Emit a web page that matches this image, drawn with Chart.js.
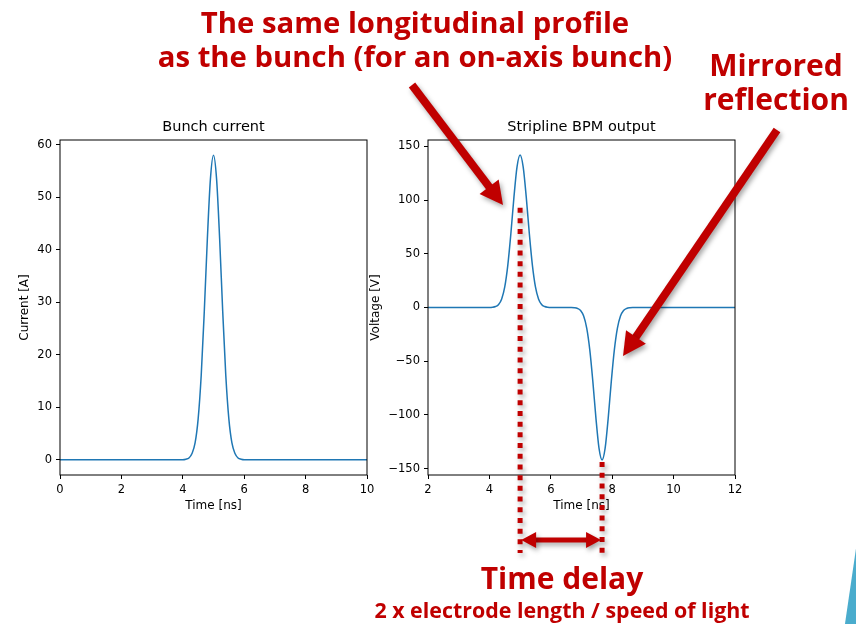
<!DOCTYPE html>
<html>
<head>
<meta charset="utf-8">
<script src="https://cdn.jsdelivr.net/npm/chart.js@4.4.1/dist/chart.umd.min.js"></script>
<style>
  body { margin: 0; width: 856px; height: 624px; overflow: hidden; background: #fff; position: relative; }
  canvas { position: absolute; }
  #bunch { left: 0; top: 110px; }
  #bpm { left: 360px; top: 110px; }
  #overlay { left: 0; top: 0; pointer-events: none; }
  .note { position: absolute; color: #c00000; font-family: "Open Sans", sans-serif; font-weight: 700; white-space: nowrap; text-align: center; transform: translateX(-50%); }
  #corner { position: absolute; left: 840px; top: 540px; width: 16px; height: 84px; background: #4aaccd; clip-path: polygon(100% 10%, 100% 100%, 31% 100%); }
</style>
</head>
<body>
<canvas id="bunch" width="380" height="420"></canvas>
<canvas id="bpm" width="390" height="420"></canvas>
<canvas id="overlay" width="856" height="624"></canvas>

<div class="note" style="left:415px; top:5px; font-size:29.3px; line-height:34px;">The same longitudinal profile<br>as the bunch (for an on-axis bunch)</div>
<div class="note" style="left:776px; top:48px; font-size:30px; line-height:34px;">Mirrored<br>reflection</div>
<div class="note" style="left:562px; top:561px; font-size:30px; line-height:34px;">Time delay</div>
<div class="note" style="left:562px; top:597px; font-size:21.4px; line-height:26px;">2 x electrode length / speed of light</div>
<div id="corner"></div>

<script>
// bunch current (left plot)
const bunchTime = [0, 4.0, 4.1, 4.2, 4.3, 4.4, 4.5, 4.6, 4.7, 4.8, 4.9, 5.0, 5.1, 5.2, 5.3, 5.4, 5.5, 5.6, 5.7, 5.8, 5.9, 6.0, 10];
const bunchCurrent = [0, 0, 0.1, 0.35, 1.2, 3.2, 7.8, 16.1, 28.3, 42.1, 53.5, 58, 53.5, 42.1, 28.3, 16.1, 7.8, 3.2, 1.2, 0.35, 0.1, 0, 0];

// stripline output (right plot)
const bpmTime = [2, 4.0, 4.1, 4.2, 4.3, 4.4, 4.5, 4.6, 4.7, 4.8, 4.9, 5.0, 5.1, 5.2, 5.3, 5.4, 5.5, 5.6, 5.7, 5.8, 5.9, 6.0,
  6.67, 6.77, 6.87, 6.97, 7.07, 7.17, 7.27, 7.37, 7.47, 7.57, 7.67, 7.77, 7.87, 7.97, 8.07, 8.17, 8.27, 8.37, 8.47, 8.57, 8.67, 12];
const bpmVoltage = [0, 0, 0.2, 0.9, 2.8, 8.0, 19.2, 39.5, 69, 103, 131, 142, 131, 103, 69, 39.5, 19.2, 8.0, 2.8, 0.9, 0.2, 0,
  0, -0.2, -0.9, -2.8, -8.0, -19.2, -39.5, -69, -103, -131, -142, -131, -103, -69, -39.5, -19.2, -8.0, -2.8, -0.9, -0.2, 0, 0];

const bunchXTicks = [0, 2, 4, 6, 8, 10];
const bunchYTicks = [0, 10, 20, 30, 40, 50, 60];
const bpmXTicks = [2, 4, 6, 8, 10, 12];
const bpmYTicks = [-150, -100, -50, 0, 50, 100, 150];

const RED = "#c00000";
const tickFont = { family: "DejaVu Sans", size: 11.5 };
const labelFont = { family: "DejaVu Sans", size: 12 };

// matplotlib style box + title centred over the plot area
const frame = {
  id: "frame",
  afterDraw(chart, args, opts) {
    const { ctx, chartArea: a } = chart;
    ctx.save();
    ctx.strokeStyle = "#000";
    ctx.lineWidth = 1;
    ctx.strokeRect(a.left, a.top, a.right - a.left, a.bottom - a.top);
    ctx.fillStyle = "#000";
    ctx.font = "14.5px 'DejaVu Sans'";
    ctx.textAlign = "center";
    ctx.textBaseline = "middle";
    ctx.fillText(opts.text, (a.left + a.right) / 2, 17);
    ctx.restore();
  },
};

function minus(v) {
  return v < 0 ? "\u2212" + Math.abs(v) : String(v);
}

function axis(ticks, min, max, title, titlePad, fit) {
  return {
    type: "linear",
    min,
    max,
    afterBuildTicks: (s) => { s.ticks = ticks.map((v) => ({ value: v })); },
    afterFit: fit,
    grid: { drawOnChartArea: false, drawTicks: true, tickLength: 4, color: "#000", lineWidth: 1 },
    border: { display: false },
    ticks: { font: tickFont, color: "#000", padding: 4, maxRotation: 0, autoSkip: false, callback: minus },
    title: { display: true, text: title, font: labelFont, color: "#000", padding: titlePad },
  };
}

function makeChart(id, xs, ys, opts) {
  return new Chart(document.getElementById(id), {
    type: "line",
    data: {
      datasets: [{
        data: xs.map((t, i) => ({ x: t, y: ys[i] })),
        borderColor: "#1f77b4",
        borderWidth: 1.5,
        pointRadius: 0,
        cubicInterpolationMode: "monotone",
      }],
    },
    options: {
      responsive: false,
      animation: false,
      events: [],
      layout: { padding: { left: 0, right: opts.right, top: 30, bottom: 0 } },
      plugins: {
        legend: { display: false },
        tooltip: { enabled: false },
        title: { display: false },
        frame: { text: opts.title },
      },
      scales: {
        x: axis(opts.xTicks, opts.xMin, opts.xMax, "Time [ns]", { top: 0, bottom: 17 }, (s) => { s.height = 55; }),
        y: axis(opts.yTicks, opts.yMin, opts.yMax, opts.yTitle, { top: opts.yTitlePad, bottom: 0 }, (s) => { s.width = opts.yWidth; }),
      },
    },
    plugins: [frame],
  });
}

const bunchChart = makeChart("bunch", bunchTime, bunchCurrent, {
  title: "Bunch current", yTitle: "Current [A]",
  xTicks: bunchXTicks, yTicks: bunchYTicks,
  xMin: 0, xMax: 10, yMin: -2.9, yMax: 60.9,
  yWidth: 60, yTitlePad: 18, right: 13,
});

const bpmChart = makeChart("bpm", bpmTime, bpmVoltage, {
  title: "Stripline BPM output", yTitle: "Voltage [V]",
  xTicks: bpmXTicks, yTicks: bpmYTicks,
  xMin: 2, xMax: 12, yMin: -156, yMax: 156,
  yWidth: 68, yTitlePad: 9, right: 15,
});

// annotations on top of the right plot
const ov = document.getElementById("overlay").getContext("2d");

function shadow(on) {
  ov.shadowColor = on ? "rgba(0,0,0,0.35)" : "transparent";
  ov.shadowBlur = on ? 5 : 0;
  ov.shadowOffsetX = on ? 2 : 0;
  ov.shadowOffsetY = on ? 3 : 0;
}

function head(tx, ty, ang, len, w) {
  ov.beginPath();
  ov.moveTo(tx, ty);
  ov.lineTo(tx - len * Math.cos(ang) + (w / 2) * Math.sin(ang), ty - len * Math.sin(ang) - (w / 2) * Math.cos(ang));
  ov.lineTo(tx - len * Math.cos(ang) - (w / 2) * Math.sin(ang), ty - len * Math.sin(ang) + (w / 2) * Math.cos(ang));
  ov.closePath();
  ov.fill();
}

function arrow(x1, y1, x2, y2, width, len, w, both) {
  const ang = Math.atan2(y2 - y1, x2 - x1);
  ov.strokeStyle = RED;
  ov.fillStyle = RED;
  ov.lineWidth = width;
  ov.lineCap = "butt";
  ov.setLineDash([]);
  const sx = both ? x1 + len * 0.8 * Math.cos(ang) : x1;
  const sy = both ? y1 + len * 0.8 * Math.sin(ang) : y1;
  ov.beginPath();
  ov.moveTo(sx, sy);
  ov.lineTo(x2 - len * 0.8 * Math.cos(ang), y2 - len * 0.8 * Math.sin(ang));
  ov.stroke();
  head(x2, y2, ang, len, w);
  if (both) head(x1, y1, ang + Math.PI, len, w);
}

const bx = bpmChart.scales.x;
const by = bpmChart.scales.y;
const left0 = 360, top0 = 110;
const iMax = bpmVoltage.indexOf(Math.max(...bpmVoltage));
const iMin = bpmVoltage.indexOf(Math.min(...bpmVoltage));
const xPeak = left0 + bx.getPixelForValue(bpmTime[iMax]);
const xDip = left0 + bx.getPixelForValue(bpmTime[iMin]);

shadow(true);
ov.strokeStyle = RED;
ov.lineWidth = 5;
ov.setLineDash([5, 5.7]);
ov.beginPath();
ov.moveTo(xPeak, top0 + by.getPixelForValue(93));
ov.lineTo(xPeak, 553);
ov.moveTo(xDip, top0 + by.getPixelForValue(-144));
ov.lineTo(xDip, 553);
ov.stroke();

arrow(412, 85, 503, 205, 8, 23, 24, false);
arrow(777, 130, 623, 356, 8, 23, 24, false);
arrow(xPeak + 1, 540, xDip - 1, 540, 5, 15, 16, true);
</script>
</body>
</html>
